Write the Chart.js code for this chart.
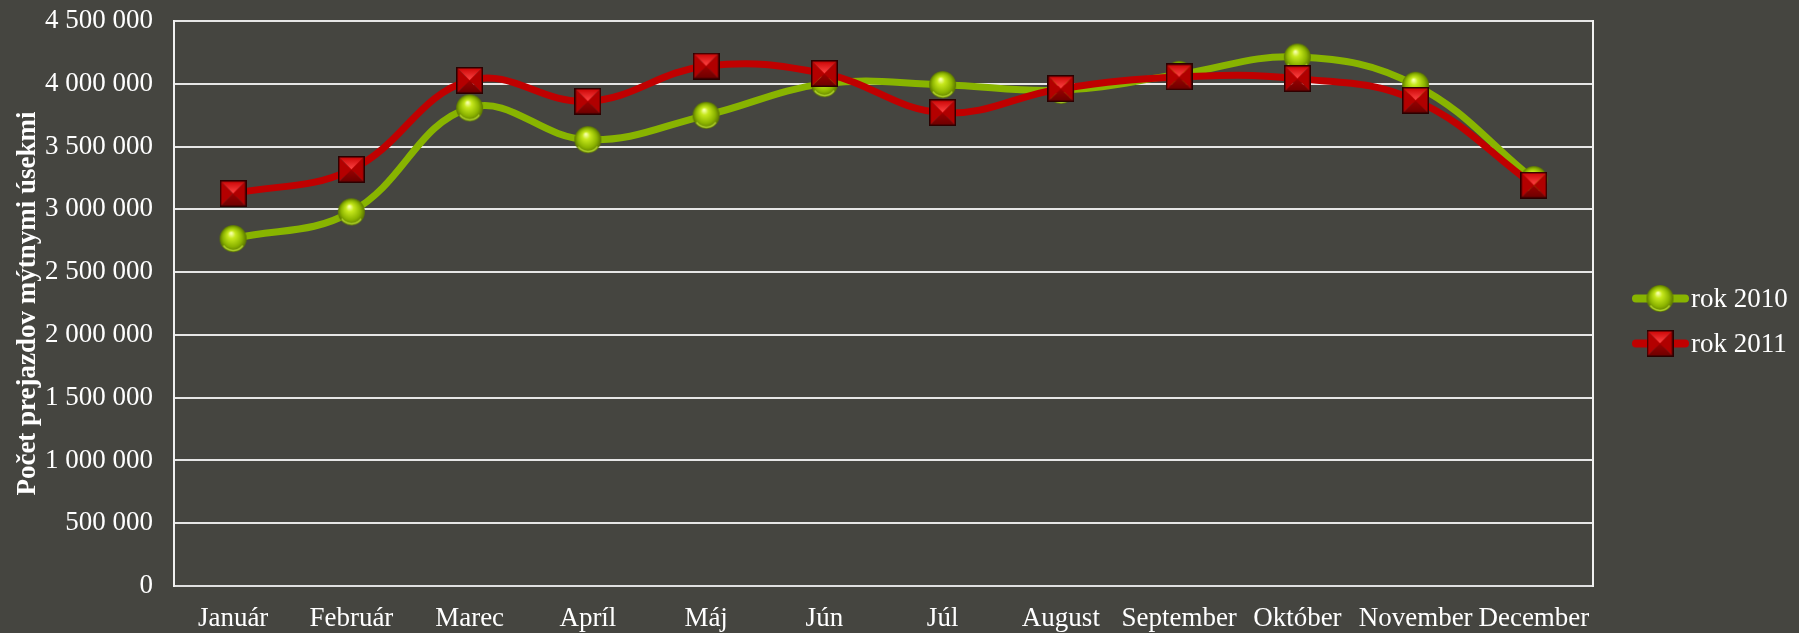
<!DOCTYPE html>
<html lang="sk">

<head>
    <meta charset="UTF-8">
    <title>Počet prejazdov mýtnymi úsekmi 2010 / 2011</title>
    <script src="https://cdn.jsdelivr.net/npm/chart.js"></script>
    <style>
        body {
            margin: 0;
            background-color: #454540;
        }

        #wrap {
            width: 1799px;
            height: 633px;
        }
    </style>
</head>

<body>
    <div id="wrap">
        <canvas id="trafficChart" width="1799" height="633"></canvas>
    </div>

    <script>
        const months = ['Január', 'Február', 'Marec', 'Apríl', 'Máj', 'Jún', 'Júl', 'August', 'September', 'Október', 'November', 'December'];
        const rok2010 = [2767000, 2980000, 3808000, 3555000, 3749000, 4001000, 3993000, 3948000, 4075000, 4213000, 3988000, 3237000];
        const rok2011 = [3125000, 3317000, 4027000, 3860000, 4141000, 4081000, 3770000, 3961000, 4054000, 4041000, 3868000, 3192000];
        const yTickLabels = ['0', '500 000', '1 000 000', '1 500 000', '2 000 000', '2 500 000', '3 000 000', '3 500 000', '4 000 000', '4 500 000'];
        const seriesNames = ['rok 2010', 'rok 2011'];
        const yTitle = 'Počet prejazdov mýtnymi úsekmi';

        const greenLine = '#88b400';
        const redLine = '#c00000';

        // glossy green ball marker
        function makeSphere(r) {
            const size = 2 * r + 2;
            const c = document.createElement('canvas');
            c.width = size;
            c.height = size;
            const g = c.getContext('2d');
            const cx = size / 2, cy = size / 2;
            const grad = g.createRadialGradient(cx - r * 0.15, cy - r * 0.4, r * 0.05, cx, cy, r);
            grad.addColorStop(0, '#f6ffa8');
            grad.addColorStop(0.25, '#c6e81c');
            grad.addColorStop(0.7, '#8cb400');
            grad.addColorStop(1, '#5a7400');
            g.fillStyle = grad;
            g.beginPath();
            g.arc(cx, cy, r, 0, Math.PI * 2);
            g.fill();
            // light rim at the bottom
            g.strokeStyle = 'rgba(200, 235, 60, 0.7)';
            g.lineWidth = 1.5;
            g.beginPath();
            g.arc(cx, cy, r - 1.5, Math.PI * 0.2, Math.PI * 0.8);
            g.stroke();
            return c;
        }

        // red pyramid square marker
        function makePyramid(s) {
            const c = document.createElement('canvas');
            c.width = s;
            c.height = s;
            const g = c.getContext('2d');
            const m = s / 2;
            const tri = (pts, fill) => {
                g.fillStyle = fill;
                g.beginPath();
                g.moveTo(pts[0], pts[1]);
                g.lineTo(pts[2], pts[3]);
                g.lineTo(pts[4], pts[5]);
                g.closePath();
                g.fill();
            };
            const top = g.createLinearGradient(0, 0, 0, m);
            top.addColorStop(0, '#c80000');
            top.addColorStop(1, '#ff4646');
            const bottom = g.createLinearGradient(0, m, 0, s);
            bottom.addColorStop(0, '#9a0000');
            bottom.addColorStop(1, '#6a0000');
            tri([0, 0, s, 0, m, m], top);
            tri([0, 0, 0, s, m, m], '#b40000');
            tri([s, 0, s, s, m, m], '#b00000');
            tri([0, s, s, s, m, m], bottom);
            g.strokeStyle = '#2a0000';
            g.lineWidth = 1.5;
            g.strokeRect(0.75, 0.75, s - 1.5, s - 1.5);
            return c;
        }

        const ball = makeSphere(13.5);
        const pyramid = makePyramid(27);
        const markers = [ball, pyramid];
        const lineColors = [greenLine, redLine];

        // right border of the plot area
        const plotFrame = {
            id: 'plotFrame',
            beforeDatasetsDraw(chart) {
                const { ctx, chartArea } = chart;
                ctx.save();
                ctx.strokeStyle = '#f0f0f0';
                ctx.lineWidth = 2;
                ctx.beginPath();
                ctx.moveTo(chartArea.right, chartArea.top - 1);
                ctx.lineTo(chartArea.right, chartArea.bottom + 1);
                ctx.stroke();
                ctx.restore();
            }
        };

        // legend to the right: line + marker + text
        const sideLegend = {
            id: 'sideLegend',
            afterDraw(chart) {
                const { ctx, chartArea } = chart;
                const x0 = chartArea.right + 39;
                const y0 = chart.height / 2 - 18;
                ctx.save();
                seriesNames.forEach((name, i) => {
                    const y = y0 + i * 45;
                    ctx.strokeStyle = lineColors[i];
                    ctx.lineWidth = 8;
                    ctx.lineCap = 'round';
                    ctx.beginPath();
                    ctx.moveTo(x0 + 4, y);
                    ctx.lineTo(x0 + 53, y);
                    ctx.stroke();
                    const mk = markers[i];
                    ctx.drawImage(mk, x0 + 28 - mk.width / 2, y - mk.height / 2);
                    ctx.fillStyle = '#ffffff';
                    ctx.font = '27px "Liberation Serif", "Times New Roman", serif';
                    ctx.textBaseline = 'middle';
                    ctx.textAlign = 'left';
                    ctx.fillText(name, x0 + 59, y + 1);
                });
                ctx.restore();
            }
        };

        Chart.defaults.font.family = '"Liberation Serif", "Times New Roman", serif';
        Chart.defaults.font.size = 27;
        Chart.defaults.color = '#ffffff';

        const ctx = document.getElementById('trafficChart').getContext('2d');
        const trafficChart = new Chart(ctx, {
            type: 'line',
            data: {
                labels: months,
                datasets: [{
                    label: seriesNames[0],
                    data: rok2010,
                    borderColor: greenLine,
                    borderWidth: 7,
                    tension: 0.4,
                    pointStyle: ball,
                    order: 1
                }, {
                    label: seriesNames[1],
                    data: rok2011,
                    borderColor: redLine,
                    borderWidth: 7,
                    tension: 0.4,
                    pointStyle: pyramid,
                    order: 0
                }]
            },
            plugins: [plotFrame, sideLegend],
            options: {
                responsive: false,
                animation: false,
                layout: {
                    padding: { top: 21, right: 206, bottom: 0, left: 0 }
                },
                plugins: {
                    legend: { display: false },
                    tooltip: { enabled: false }
                },
                scales: {
                    x: {
                        offset: true,
                        grid: { display: false },
                        border: { display: true, color: '#e0e0e0', width: 2 },
                        ticks: {
                            maxRotation: 0,
                            autoSkip: false,
                            padding: 9,
                            color: '#ffffff'
                        },
                        afterFit(scale) {
                            scale.height = 47;
                            scale.paddingLeft = 0;
                            scale.paddingRight = 0;
                        }
                    },
                    y: {
                        min: 0,
                        max: 4500000,
                        grid: {
                            color: '#e6e6e6',
                            lineWidth: 2,
                            drawTicks: false
                        },
                        border: { display: true, color: '#f0f0f0', width: 2 },
                        ticks: {
                            stepSize: 500000,
                            padding: 21,
                            color: '#ffffff',
                            callback: (value, index) => yTickLabels[index]
                        },
                        title: {
                            display: true,
                            text: yTitle,
                            color: '#ffffff',
                            font: { size: 27, weight: 'bold' },
                            padding: { top: 12, bottom: 0 }
                        },
                        afterFit(scale) {
                            scale.width = 174;
                            scale.paddingTop = 0;
                            scale.paddingBottom = 0;
                        }
                    }
                }
            }
        });
    </script>
</body>

</html>
